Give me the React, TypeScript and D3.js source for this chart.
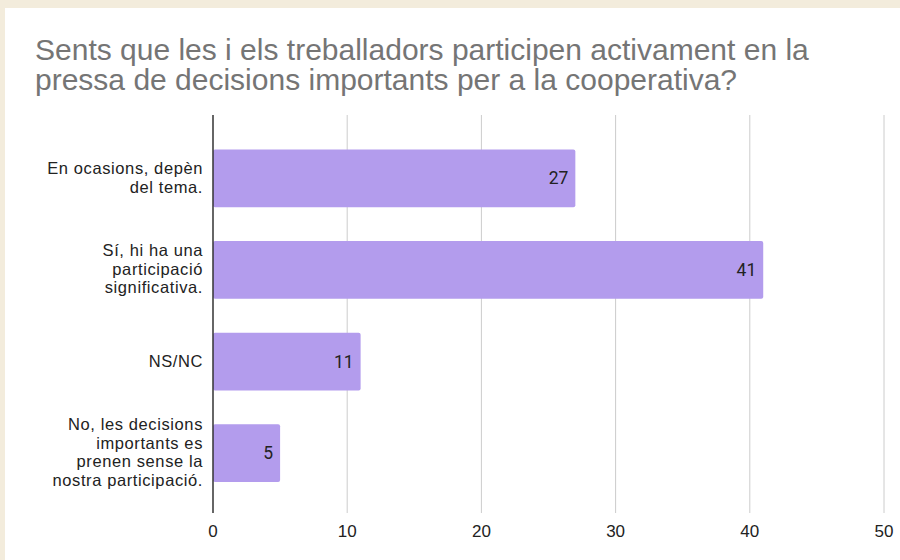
import React from "react";
import * as d3 from "d3";

const categories: string[][] = [
  ["En ocasions, depèn", "del tema."],
  ["Sí, hi ha una", "participació", "significativa."],
  ["NS/NC"],
  ["No, les decisions", "importants es", "prenen sense la", "nostra participació."],
];
const values: number[] = [27, 41, 11, 5];
const ticks: number[] = [0, 10, 20, 30, 40, 50];
const titleLines: string[] = [
  "Sents que les i els treballadors participen activament en la",
  "pressa de decisions importants per a la cooperativa?",
];

export default function App() {
  const W = 900, H = 560;
  const x = d3.scaleLinear().domain([0, 50]).range([213, 884]);
  const y = d3.scaleBand<number>().domain(d3.range(values.length)).range([132.5, 499]).paddingInner(0.37).paddingOuter(0.185);
  const top = 115, bottom = 513;
  return (
    <svg width={W} height={H} style={{ position: "absolute", left: 0, top: 0 }} fontFamily="'Liberation Sans', Arial, sans-serif">
      <rect x={0} y={0} width={W} height={H} fill="#f3ecdc" />
      <rect x={5} y={8} width={W - 5} height={H - 8} fill="#ffffff" />
      <text x={35} y={60} fontSize={30} fill="#757575">
        {titleLines.map((t, i) => (
          <tspan key={i} x={35} y={60 + i * 30}>{t}</tspan>
        ))}
      </text>
      {ticks.map((t) => (
        <g key={t}>
          {t !== 0 && <line x1={x(t)} x2={x(t)} y1={top} y2={bottom} stroke="#cccccc" strokeWidth={1} />}
          <text x={x(t)} y={537} textAnchor="middle" fontSize={17} fill="#222">{t}</text>
        </g>
      ))}
      {values.map((v, i) => {
        const y0 = y(i)!;
        const bw = y.bandwidth();
        const cy = y0 + bw / 2;
        const lines = categories[i];
        const lh = 18.5;
        const first = cy - ((lines.length - 1) * lh) / 2 + 5;
        return (
          <g key={i}>
            <rect x={x(0)} y={y0} width={x(v) - x(0)} height={bw} fill="#b39ced" rx={2} />
            <text x={x(v) - 7} y={cy + 6} textAnchor="end" fontSize={17.5} fill="#222" fontFamily="Roboto, Arial, sans-serif">{v}</text>
            <text x={203} y={first} textAnchor="end" fontSize={16.5} letterSpacing={0.6} fill="#222">
              {lines.map((l, j) => (
                <tspan key={j} x={203} y={first + j * lh}>{l}</tspan>
              ))}
            </text>
          </g>
        );
      })}
      <line x1={x(0)} x2={x(0)} y1={top} y2={bottom} stroke="#333333" strokeWidth={1.5} />
    </svg>
  );
}
